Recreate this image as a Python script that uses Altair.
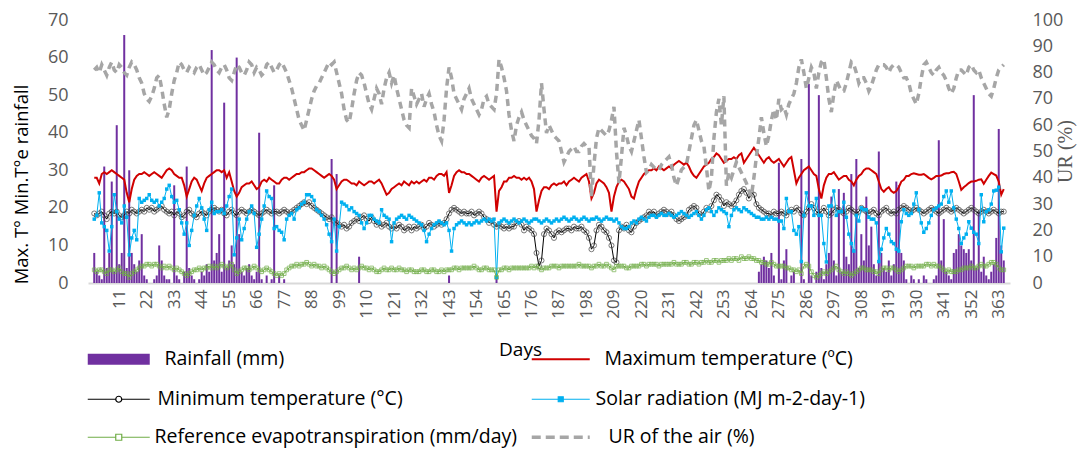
import altair as alt
import pandas as pd

# ---------------- data (day 1..365) ----------------
rainfall = [
    8, 3, 2, 1, 31, 4, 8, 27, 3, 42,
    5, 8, 66, 4, 30, 8, 5, 3, 6, 13,
    2, 1, 0, 0, 1, 2, 10, 6, 2, 1,
    1, 0, 26, 2, 1, 0, 3, 31, 4, 2,
    1, 0, 1, 3, 2, 5, 3, 62, 6, 8,
    13, 3, 48, 4, 6, 10, 5, 60, 13, 3,
    2, 4, 5, 2, 1, 3, 40, 1, 0, 2,
    0, 1, 26, 0, 2, 0, 1, 0, 0, 0,
    0, 0, 0, 0, 0, 0, 0, 0, 0, 0,
    0, 0, 0, 0, 0, 33, 0, 29, 0, 0,
    0, 0, 0, 0, 0, 0, 7, 0, 0, 0,
    0, 0, 0, 0, 0, 0, 0, 0, 0, 0,
    0, 0, 0, 0, 0, 0, 0, 0, 0, 0,
    0, 0, 0, 0, 0, 0, 0, 0, 0, 0,
    0, 0, 2, 0, 0, 0, 0, 0, 0, 0,
    0, 0, 0, 0, 0, 0, 0, 0, 0, 0,
    0, 1.5, 0, 0, 0, 0, 0, 0, 0, 0,
    0, 0, 0, 0, 0, 0, 0, 0, 0, 0,
    0, 0, 0, 0, 0, 0, 0, 0, 0, 0,
    0, 0, 0, 0, 0, 0, 0, 0, 0, 0,
    0, 0, 0, 0, 0, 0, 0, 0, 0, 0,
    0, 0, 0, 0, 0, 0, 0, 0, 0, 0,
    0, 0, 0, 0, 0, 0, 0, 0, 0, 0,
    0, 0, 0, 0, 0, 0, 0, 0, 0, 0,
    0, 0, 0, 0, 0, 0, 0, 0, 0, 0,
    0, 0, 0, 0, 0, 0, 0, 0, 0, 0,
    0, 0, 0, 0, 0, 0, 3, 5, 7, 6,
    4, 8, 2, 0, 32, 1, 6, 9, 0, 2,
    3, 0, 0, 33, 1, 0, 53, 2, 0, 3,
    50, 4, 1, 5, 8, 23, 6, 2, 25, 3,
    24, 7, 5, 29, 9, 33, 4, 13, 6, 23,
    10, 15, 5, 2, 35, 8, 4, 3, 6, 2,
    5, 27, 26, 8, 6, 1, 0, 2, 1, 0,
    1, 0, 2, 1, 0, 0, 1, 2, 38, 6,
    17, 3, 2, 1, 8, 9, 13, 10, 9, 8,
    9, 6, 50, 4, 19, 3, 7, 2, 1, 3,
    5, 12, 41, 10, 6,
]

tmax = [
    28, 28, 26.5, 29, 29.5, 29, 29.5, 30, 29.5, 29,
    28.5, 28, 27.5, 24, 21.5, 25, 27.5, 28.5, 29, 29,
    29.5, 29, 28.5, 29, 29.5, 29, 28.5, 28, 29, 30,
    30.5, 30, 29, 28.5, 28, 28, 26, 23, 25, 27,
    28, 27.5, 26, 24.5, 26.5, 28, 28.5, 29, 29.5, 30,
    30, 29.5, 30, 28, 29.5, 27, 24.5, 23, 24, 25.5,
    26, 26.5, 26.5, 27, 26, 25, 25.5, 27, 27.5, 27,
    28, 27.5, 27, 26.5, 26.5, 27.5, 28, 28, 27.5, 28,
    28.5, 29, 29, 29.5, 29.5, 30, 30.5, 30.5, 30, 29.5,
    29, 28.5, 28, 28.5, 29, 28.5, 27.5, 25, 26, 27,
    27.5, 27.5, 27, 26.5, 26.5, 26, 27, 26.5, 26, 26.5,
    27, 27, 26.5, 27, 27.5, 26.5, 25, 23.5, 24, 25,
    25.5, 26, 26.5, 26, 27, 26.5, 26, 27, 26.5, 27,
    26.5, 27, 27.5, 27, 28, 28, 27.5, 28.5, 29, 29,
    28.5, 29.5, 24, 26, 28.5, 29.5, 30, 29.5, 29.5, 29,
    29, 28.5, 28, 27.5, 27, 28, 28.5, 28, 27.5, 28,
    28.5, 19, 24.5, 25.5, 27, 27, 28, 28, 28.5, 28,
    28, 27.5, 28, 27.5, 28, 27, 25, 19, 22, 24.5,
    25.5, 25.5, 25, 26, 26.5, 26, 26.5, 26.5, 27, 26,
    27, 27.5, 28, 27.5, 27, 28, 28.5, 29, 27, 22.5,
    24, 26.5, 27.5, 27, 26.5, 25.5, 24, 19, 23, 25.5,
    27, 27.5, 27, 26, 25, 23, 22.5, 25, 27, 28,
    29, 29.5, 30, 30, 30.5, 30, 31, 30.5, 30, 30.5,
    31, 30.5, 31.5, 32, 32.5, 32, 31.5, 32, 31, 29.5,
    28.5, 28, 29, 30, 31, 31.5, 32, 33, 33.5, 34.5,
    34, 33, 32, 32.5, 33, 33, 33.5, 33, 34, 34.5,
    32, 33, 34, 35, 36, 35, 34, 33, 32, 33,
    33.5, 32.5, 32, 32.5, 33, 32, 31, 32, 33, 33.5,
    30, 26.5, 28, 29, 30, 30.5, 31, 30, 29, 28.5,
    25, 22.5, 26, 28, 29, 29, 29.5, 28.5, 27.5, 28,
    28.5, 28.5, 27.5, 27, 26, 27.5, 28.5, 29, 30, 30.5,
    30.5, 30, 29.5, 29, 27, 25, 24.3, 25, 25.5, 24.5,
    24, 24.5, 25.5, 27, 27.5, 28.5, 28.5, 29, 29.2, 29,
    28.8, 28.8, 29, 28.5, 28, 27.6, 28, 28.5, 28.5, 28.6,
    29, 29.2, 29.2, 29.5, 29.6, 29, 27, 24.8, 25.5, 26,
    26.6, 27, 27, 27.2, 27.5, 27.6, 26.4, 27.5, 28.5, 29.4,
    29, 28.6, 27, 23.5, 25,
]

tmin = [
    18.5, 18, 18.5, 19, 18, 17, 18.5, 19, 18.5, 19,
    18, 17.5, 18, 19, 18.5, 19.5, 19, 18.5, 19, 19.5,
    19, 20, 19.5, 20, 19, 19.5, 20, 20.5, 19.5, 19,
    18.5, 19, 18, 19, 18.5, 17.5, 18, 19, 19.5, 18.5,
    18, 17.5, 18.5, 19, 18.5, 18, 19, 19.5, 20, 19.5,
    19, 19.5, 18.5, 18, 19, 19.5, 18.5, 18, 19, 19.5,
    19, 18.5, 19, 19.5, 19, 18.5, 18, 18.5, 19, 19.5,
    19, 18.5, 19, 19, 18.5, 19, 19.5, 19, 18.5, 19,
    19.5, 20, 20.5, 21, 21.5, 21, 21.5, 20.5, 20, 19.5,
    19, 18.5, 18, 17.5, 17, 17.5, 16.5, 16, 15.5, 15,
    15.5, 14.5, 15, 16, 16.5, 17, 16.5, 17.5, 18, 17,
    16.5, 17.5, 16.5, 15.5, 16, 15, 15.5, 16, 15, 14.5,
    15, 14.5, 15.5, 15, 14, 14.5, 15, 14, 15, 14.5,
    15, 15.5, 14.5, 15, 16, 15.5, 15, 15.5, 16, 15.5,
    16, 17, 18.5, 19.5, 20, 19.5, 19, 18.5, 19, 18.5,
    18.5, 19, 18, 18.5, 19, 18.5, 17.5, 17, 16, 16.5,
    15.5, 15, 15.5, 15, 14.5, 15, 14.5, 15, 15, 16,
    16.5, 15.5, 14, 15, 14.5, 14, 13, 8, 4.5, 6,
    13, 14.5, 14, 13, 12, 13.5, 14, 13.5, 14, 14.5,
    14.5, 14, 15, 14.5, 14.5, 15, 14, 13.5, 12, 9,
    10, 14, 15.5, 15, 14, 13.5, 12, 10, 6, 5.5,
    14, 15, 14.5, 15.5, 14, 13.5, 15, 16, 16.5, 17,
    17.5, 18, 19, 18.5, 19, 18, 18.5, 19, 19.5, 19,
    18.5, 19, 18, 17, 16.5, 17, 17.5, 18, 19.5, 20,
    20.5, 20, 18.5, 18, 19, 20, 19.5, 20.5, 22, 23.5,
    23, 22, 20.5, 21.5, 21, 20.5, 21, 22, 23.5, 24.5,
    25, 24, 22.5, 24, 23.5, 21, 20, 19.5, 19, 18.5,
    18.5, 18, 19, 18.5, 18.5, 19, 18.5, 18, 19, 19.5,
    19, 20, 19.5, 18.5, 18, 19, 20, 21, 20, 19,
    18.5, 19, 20, 19, 18, 18.5, 19.5, 20, 19.5, 19,
    18.5, 19, 20, 19.5, 19, 18.5, 19, 20, 19.5, 19,
    18.5, 19, 19.5, 18.5, 18, 19, 19.5, 20, 19, 18.5,
    19, 18.5, 19.5, 20, 20.5, 20, 19.5, 19, 19.5, 20,
    19.5, 19, 18.5, 19, 19.5, 20, 19.5, 19, 18.5, 19,
    19.5, 20, 19.5, 19, 19.5, 20, 19.5, 19, 18.5, 19,
    19.5, 20, 19.5, 19, 18.5, 19, 19.5, 19, 18.5, 19,
    19.5, 19, 18.5, 19, 19,
]

solar = [
    17, 18, 24, 16, 15, 14, 8.5, 15, 23.5, 19,
    17, 16, 20.5, 17.5, 7.5, 12, 14, 11.5, 22.5, 21.5,
    22, 22.5, 23.5, 22, 21.5, 22, 20.5, 21.5, 22.5, 25,
    26, 23, 21.5, 22, 19.5, 16, 13, 16, 10, 14,
    18, 20.5, 22.5, 20, 17, 14, 19.5, 21.5, 18.5, 19,
    19, 19.5, 18.5, 20.5, 23, 25, 7.5, 12, 17, 11.5,
    14.5, 17, 19, 20.5, 18.5, 9.5, 13, 17, 20.5, 24.5,
    23, 22.5, 14.5, 15, 14, 13.5, 11.5, 17, 18, 18.5,
    17, 19.5, 20, 21, 21.5, 23.5, 23.5, 23, 22, 19.5,
    19, 18, 17, 15.5, 13, 11, 17, 8.5, 15, 21.5,
    21, 20.5, 19.5, 20, 19, 18.5, 18, 16, 14.5, 16,
    18, 18, 17, 16.5, 16, 19.5, 18, 17.5, 17, 11,
    16, 17, 17.5, 18, 17.5, 17, 18, 17.5, 17, 16.5,
    16, 15.5, 14, 11, 13, 14.5, 15.5, 16, 16.5, 16,
    15.5, 16, 14, 8.5, 14.5, 15.5, 16, 16.5, 16, 15.5,
    16, 15.5, 16, 16.5, 16, 16.5, 17, 16.5, 17, 16.5,
    17, 1.5, 16, 16.5, 17, 16.5, 16, 16.5, 17, 16.5,
    16, 16.5, 17, 16.5, 16, 16.5, 17, 17, 16.5, 16,
    16.5, 17, 16.5, 16, 16.5, 17, 16.5, 17, 17.5, 17,
    16.5, 17, 17.5, 17, 16.5, 17, 17.5, 17, 16.5, 17,
    17, 17.5, 17, 16.5, 17, 17.5, 17, 17, 16.5, 17,
    16, 15, 14.5, 14.5, 15, 16, 16.5, 16, 17, 17.5,
    17, 16.5, 17.5, 18, 18, 17.5, 18, 18.5, 18, 18,
    18.5, 18, 17.5, 18, 18.5, 19, 18.5, 18, 17.5, 18,
    18.5, 19, 18, 17, 18, 19.5, 20, 19, 18, 19,
    20, 19.5, 19, 18.5, 15, 18, 19.5, 20, 19.5, 19,
    20, 19.5, 19, 18.5, 18, 17.5, 17.5, 17, 17, 17.5,
    17, 17.5, 17, 17, 16.5, 16.5, 14.5, 22.5, 19, 19,
    14, 13, 15, 5.7, 18, 24, 20.5, 20.5, 18, 22.5,
    18, 18, 10.5, 5.6, 20.5, 20.5, 24.5, 18, 19, 19,
    21.5, 17.5, 13, 10.5, 8.5, 18, 16.5, 20, 19.5, 19.5,
    17.5, 17, 17, 16, 5.7, 9, 12, 14.5, 13, 11,
    10.5, 9, 8.5, 16.3, 19.5, 18.5, 18, 18.5, 21, 24,
    19.5, 16, 13.5, 14.5, 16, 18, 19.5, 20, 20.5, 21,
    23, 24.5, 21.5, 24.5, 20, 17, 14.5, 10.5, 12, 13,
    16.3, 14.6, 13.5, 13, 10.5, 23.5, 16.3, 19, 19.5, 21,
    24.5, 24.7, 25.5, 8.3, 14.6,
]

et0 = [
    3.5, 3, 3.5, 3.5, 3, 2.5, 3.5, 3.5, 3, 3.5,
    4, 3, 2.5, 2.5, 1.5, 2.5, 3, 3.5, 4, 4.5,
    4.5, 5, 5, 4.5, 5, 5, 4.5, 4, 4.5, 4,
    4.5, 4, 3.5, 4, 3.5, 3, 2.5, 2, 2.5, 3,
    3.5, 3.5, 4, 3.5, 4, 4, 4.5, 4, 4.5, 4,
    4.5, 5, 4.5, 4, 4.5, 5, 3.5, 2.5, 3, 3.5,
    4, 4, 3.5, 4, 4.5, 4, 3.5, 3, 3.5, 4,
    3.5, 3, 2.5, 2, 2.5, 2, 2.5, 3.5, 4, 4.5,
    4.5, 5, 4.5, 5, 5, 5.5, 5, 4.5, 5, 4.5,
    4.5, 4, 4.5, 4, 3.5, 3, 2.5, 3, 3.5, 4,
    4, 4.5, 4, 3.5, 4, 3.5, 4, 4.5, 4, 4,
    3.5, 4, 3.5, 3, 3, 3.5, 4, 3.5, 3.5, 4,
    3.5, 3.5, 4, 3.5, 3.5, 3, 3.5, 3.5, 3, 3,
    3, 3.5, 3.5, 3, 3, 3.5, 3.5, 3, 3, 3.5,
    3, 3.5, 3.5, 3.5, 4, 4, 3.5, 4, 4, 4,
    4, 4, 4.5, 4, 3.5, 3.5, 4, 4, 3.5, 3.5,
    3.5, 1.5, 3.5, 3.5, 4, 4, 3.5, 4, 4, 4,
    4, 4, 4, 4, 4, 4.5, 4, 4.5, 4, 3.5,
    4, 4, 4, 4.5, 4.5, 4.5, 4, 4.5, 4.5, 4.5,
    4.5, 4.5, 4.5, 4.5, 5, 4.5, 4.5, 4.5, 4.5, 4,
    4.5, 4.5, 5, 4.5, 4.5, 5, 4.5, 4, 3.5, 4.5,
    4.5, 4.5, 4.5, 4, 4, 4.5, 4.5, 4.5, 4.5, 5,
    5, 4.5, 5, 5, 5, 5, 4.5, 5, 5, 5,
    5, 5, 5.5, 5, 5, 5, 5.5, 5.5, 5, 5,
    5.5, 5.5, 5, 5.5, 5.5, 6, 5.5, 5.5, 6, 6,
    5.5, 6, 6, 6, 6.5, 6, 6.5, 6.5, 6, 7,
    6.5, 6.5, 7, 6.5, 6.5, 6, 6, 5.5, 5.5, 5,
    5, 5.5, 5, 4.5, 4.5, 4.5, 4.5, 4, 4, 3.5,
    3.5, 3, 3.5, 2.5, 4.5, 5, 4.5, 3, 2, 1.5,
    2, 2.5, 3, 2.5, 3, 3.5, 4, 4.5, 3.5, 3,
    2.5, 3, 2.5, 2, 2.5, 3, 3.5, 4, 4, 3.5,
    3.5, 3.5, 3, 3, 2.5, 3.5, 4, 4, 3.5, 4,
    4, 3.5, 3, 3.5, 4, 4.5, 4.5, 4.5, 4, 4.5,
    4.5, 4.5, 4.5, 5, 5, 4.5, 5, 4.5, 4.5, 4,
    3.5, 3, 3.5, 3, 3, 3, 3.5, 3.5, 4, 4,
    4, 4.5, 4, 4, 4.5, 5, 4.5, 4.5, 5, 5.5,
    5.5, 5, 4, 3.5, 3.5,
]

humidity = [
    81, 82, 80, 83, 81, 79, 82, 84, 81, 80,
    83, 82, 80, 79, 82, 84, 83, 81, 78, 76,
    72, 70, 69, 71, 74, 78, 79, 74, 68, 63,
    66, 72, 77, 80, 84, 83, 81, 80, 82, 81,
    80, 82, 83, 81, 79, 80, 82, 84, 83, 81,
    80, 82, 83, 81, 78, 77, 80, 83, 82, 80,
    79, 81, 84, 83, 80, 82, 81, 79, 80, 83,
    84, 82, 80, 81, 83, 84, 82, 80, 77, 74,
    70, 66, 62, 60, 58, 62, 66, 70, 73, 75,
    76, 78, 80, 82, 84, 83, 84, 80, 76, 72,
    66, 62, 61, 66, 72, 77, 80, 79, 76, 72,
    68, 66, 70, 74, 72, 68, 74, 78, 80, 76,
    79, 74, 70, 66, 62, 60, 59, 74, 71, 68,
    70, 72, 67, 70, 72, 68, 65, 60, 56, 54,
    62, 74, 82, 78, 72, 70, 68, 66, 70, 72,
    74, 70, 68, 66, 64, 66, 70, 71, 68, 67,
    66, 72, 85, 82, 78, 73, 64, 58, 54, 60,
    63, 65, 62, 60, 58, 56, 55, 53, 62, 76,
    66, 57, 60, 58, 56, 55, 54, 50, 46, 48,
    50, 51, 52, 50, 50, 52, 53, 52, 52, 33,
    45, 55, 59, 58, 57, 56, 58, 62, 67, 50,
    38, 48, 59, 56, 52, 50, 54, 58, 62, 55,
    48, 42, 43, 45, 44, 43, 43, 45, 46, 47,
    48, 45, 40, 37, 40, 43, 44, 45, 50, 55,
    60, 62, 58, 54, 52, 44, 35, 40, 55, 65,
    70, 60, 71, 37, 42, 40, 43, 46, 44, 42,
    40, 38, 35, 33, 40, 48, 55, 63, 57, 52,
    56, 62, 66, 62, 70, 66, 67, 64, 68, 70,
    72, 76, 82, 85, 80, 74, 78, 82, 80, 74,
    80, 84, 85, 78, 70, 65, 72, 77, 75, 73,
    73, 76, 80, 84, 83, 80, 76, 78, 78, 76,
    73, 75, 78, 81, 83, 83, 83, 82, 80, 82,
    83, 83, 82, 80, 78, 78, 76, 72, 70, 68,
    72, 78, 83, 84, 82, 80, 79, 81, 82, 80,
    79, 77, 74, 72, 74, 78, 81, 81, 80, 79,
    82, 83, 81, 80, 81, 78, 76, 74, 72, 71,
    74, 78, 81, 82, 83,
]

x_tick_values = list(range(11, 364, 11))
left_ticks = [0, 10, 20, 30, 40, 50, 60, 70]
right_ticks = [0, 10, 20, 30, 40, 50, 60, 70, 80, 90, 100]

lab_rain = "Rainfall (mm)"
lab_tmax = "Maximum temperature (ºC)"
lab_tmin = "Minimum temperature (°C)"
lab_srad = "Solar radiation (MJ m-2-day-1)"
lab_et0 = "Reference evapotranspiration (mm/day)"
lab_ur = "UR of the air (%)"

C_RAIN = "#7030A0"
C_TMAX = "#D00000"
C_TMIN = "#000000"
C_TMIN_PT = "#404040"
C_SRAD = "#00B0F0"
C_ET0 = "#70AD47"
C_UR = "#A6A6A6"

lens = {k: len(v) for k, v in dict(rainfall=rainfall, tmax=tmax, tmin=tmin, solar=solar, et0=et0, humidity=humidity).items()}
assert all(n == 365 for n in lens.values()), lens

df = pd.DataFrame({
    "day": list(range(1, 366)),
    "rain": rainfall,
    "tmax": tmax,
    "tmin": tmin,
    "srad": solar,
    "et0": et0,
    "ur": humidity,
})

# ---------------- encodings ----------------
x_enc = alt.X(
    "day:Q",
    scale=alt.Scale(domain=[0.5, 365.5], nice=False, zero=False),
    axis=alt.Axis(
        values=x_tick_values, labelAngle=270, labelFlush=False, grid=False, ticks=False,
        domainColor="#D9D9D9", domainWidth=2, labelColor="#595959", labelFontSize=17,
        labelPadding=6, title="Days", titleFontSize=19, titleFontWeight="normal",
        titleColor="#000000", titleX=432, titleY=66, titleBaseline="middle",
    ),
)

left_axis = alt.Axis(
    values=left_ticks, grid=False, ticks=False, domain=False, labelColor="#595959",
    labelFontSize=18, labelPadding=20, title="Max. T° Min.T°e rainfall",
    titleFontSize=18.5, titleFontWeight="normal", titleColor="#000000",
    titleX=-67, titleY=164, titleAngle=270, titleAlign="center", titleBaseline="middle",
)
right_axis = alt.Axis(
    orient="right", values=right_ticks, grid=False, ticks=False, domain=False,
    labelColor="#595959", labelFontSize=18, labelPadding=22, title="UR (%)",
    titleFont="Liberation Serif", titleFontSize=20, titleFontWeight="normal",
    titleColor="#595959", titleX=55, titleY=131, titleAngle=270, titleAlign="center",
    titleBaseline="middle",
)


def yl(field):
    return alt.Y(f"{field}:Q", scale=alt.Scale(domain=[0, 70], nice=False, zero=True), axis=left_axis)


def leg(x, y, path, offset, **kw):
    return alt.Legend(orient="none", legendX=x, legendY=y, title=None, symbolType=path,
                      symbolSize=100, labelOffset=offset, **kw)


def col(label, color, legend):
    return alt.Color("s:N", scale=alt.Scale(domain=[label], range=[color]), legend=legend)


ROW1, ROW2, ROW3 = 329.5, 369.5, 407.5
COL1, COL2 = 21, 463

base = alt.Chart(df)

rain = base.transform_calculate(s=f"'{lab_rain}'").mark_bar(size=2).encode(
    x=x_enc, y=yl("rain"),
    color=col(lab_rain, C_RAIN, leg(COL1, ROW1, "M-6.2,-1.1H6.2V1.1H-6.2Z", 36,
                                  symbolFillColor=C_RAIN, symbolStrokeWidth=0)),
)

tmax_l = base.transform_calculate(s=f"'{lab_tmax}'").mark_line(strokeWidth=2).encode(
    x=x_enc, y=yl("tmax"),
    color=col(lab_tmax, C_TMAX, leg(COL2, ROW1, "M-5.8,0H5.8", 34,
                                  symbolStrokeColor=C_TMAX, symbolStrokeWidth=2)),
)

tmin_l = base.transform_calculate(s=f"'{lab_tmin}'").mark_line(strokeWidth=1).encode(
    x=x_enc, y=yl("tmin"),
    color=col(lab_tmin, C_TMIN, leg(COL1, ROW2,
                                  "M-6.2,0H-0.6M0.6,0H6.2M-0.6,0A0.6,0.6 0 1,1 0.6,0A0.6,0.6 0 1,1 -0.6,0",
                                  29, symbolStrokeColor=C_TMIN_PT, symbolFillColor="transparent",
                                  symbolStrokeWidth=1.2)),
)
tmin_p = base.mark_point(shape="circle", filled=False, size=26, color=C_TMIN_PT, strokeWidth=1).encode(
    x=x_enc, y=yl("tmin"),
)

srad_l = base.transform_calculate(s=f"'{lab_srad}'").mark_line(strokeWidth=1).encode(
    x=x_enc, y=yl("srad"),
    color=col(lab_srad, C_SRAD, leg(COL2, ROW2, "M-5.8,0H5.8M-0.5,-0.5H0.5V0.5H-0.5Z", 25,
                                  symbolStrokeColor=C_SRAD, symbolFillColor=C_SRAD,
                                  symbolStrokeWidth=1.2)),
)
srad_p = base.mark_square(size=12, color=C_SRAD, opacity=1).encode(x=x_enc, y=yl("srad"))

et0_l = base.transform_calculate(s=f"'{lab_et0}'").mark_line(strokeWidth=1).encode(
    x=x_enc, y=yl("et0"),
    color=col(lab_et0, C_ET0, leg(COL1, ROW3, "M-6.2,0H-0.6M0.6,0H6.2M-0.6,-0.6H0.6V0.6H-0.6Z", 26,
                                symbolStrokeColor=C_ET0, symbolFillColor="transparent",
                                symbolStrokeWidth=1.2)),
)
et0_p = base.mark_point(shape="square", filled=False, size=14, color=C_ET0, strokeWidth=1).encode(
    x=x_enc, y=yl("et0"),
)

ur_l = base.transform_calculate(s=f"'{lab_ur}'").mark_line(strokeWidth=3.5, strokeDash=[7, 5]).encode(
    x=x_enc,
    y=alt.Y("ur:Q", scale=alt.Scale(domain=[0, 100], nice=False, zero=True), axis=right_axis),
    color=col(lab_ur, C_UR, leg(COL2, ROW3, "M-5.8,0H5.8", 38, symbolStrokeColor=C_UR,
                              symbolStrokeWidth=3.5, symbolDash=[9, 5])),
)

left = alt.layer(rain, tmax_l, tmin_l, tmin_p, srad_l, srad_p, et0_l, et0_p).resolve_scale(color="independent")

chart = (
    alt.layer(left, ur_l)
    .resolve_scale(y="independent", color="independent")
    .properties(
        width=922, height=263,
        autosize=alt.AutoSizeParams(type="none"),
        padding={"left": 80, "top": 12, "right": 68, "bottom": 168},
    )
    .configure(font="Open Sans")
    .configure_view(stroke=None)
    .configure_legend(labelFont="Open Sans", labelFontSize=19.5, labelColor="#000000", labelLimit=700)
)

chart.save("out.html", embed_options={"renderer": "svg", "actions": False})
